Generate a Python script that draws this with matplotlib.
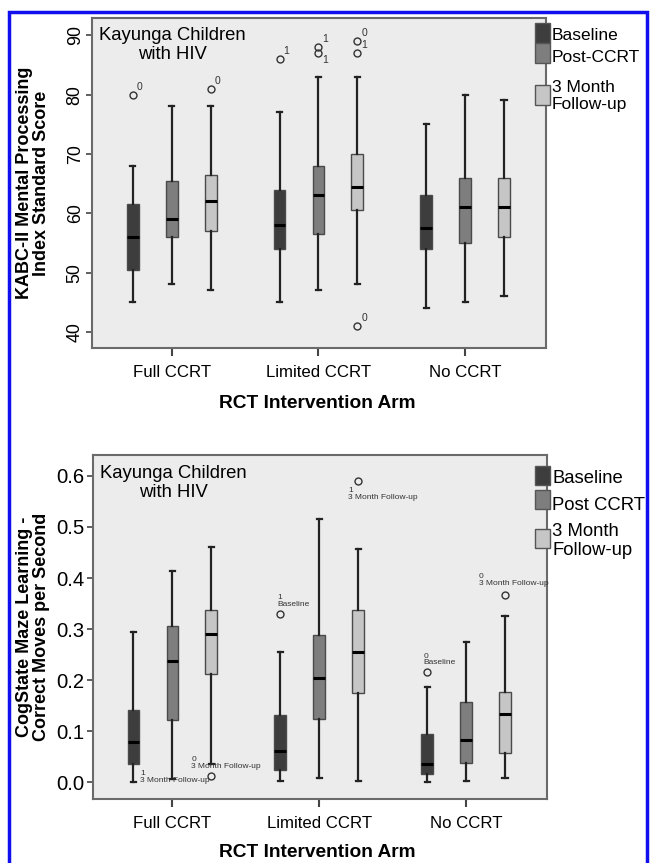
import matplotlib.pyplot as plt
from matplotlib import font_manager
from matplotlib.patches import Rectangle

# ---- data ----
arms = ['Full CCRT', 'Limited CCRT', 'No CCRT']
phases_top = ['Baseline', 'Post-CCRT', '3 Month\nFollow-up']
phases_bot = ['Baseline', 'Post CCRT', '3 Month\nFollow-up']

# box stats per arm: [whislo, q1, median, q3, whishi]
kabc_baseline = [[45, 50.5, 56, 61.5, 68], [45, 54, 58, 64, 77], [44, 54, 57.5, 63, 75]]
kabc_post = [[48, 56, 59, 65.5, 78], [47, 56.5, 63, 68, 83], [45, 55, 61, 66, 80]]
kabc_followup = [[47, 57, 62, 66.5, 78], [48, 60.5, 64.5, 70, 83], [46, 56, 61, 66, 79]]
kabc_outliers_baseline = [[80], [86], []]
kabc_outliers_post = [[], [88, 87], []]
kabc_outliers_followup = [[81], [89, 87, 41], []]
kabc_outlier_labels_baseline = [['0'], ['1'], []]
kabc_outlier_labels_post = [[], ['1', '1'], []]
kabc_outlier_labels_followup = [['0'], ['0', '1', '0'], []]

maze_baseline = [[0.0, 0.035, 0.079, 0.142, 0.295], [0.002, 0.023, 0.062, 0.131, 0.255],
                 [0.0, 0.016, 0.035, 0.095, 0.186]]
maze_post = [[0.006, 0.122, 0.237, 0.305, 0.413], [0.008, 0.124, 0.205, 0.289, 0.515],
             [0.002, 0.038, 0.082, 0.157, 0.275]]
maze_followup = [[0.035, 0.212, 0.291, 0.338, 0.460], [0.002, 0.175, 0.255, 0.338, 0.457],
                 [0.008, 0.057, 0.133, 0.176, 0.325]]
maze_outliers_baseline = [[], [0.330], [0.215]]
maze_outliers_post = [[], [], []]
maze_outliers_followup = [[0.013], [0.590], [0.367]]
maze_outlier_labels_baseline = [[], ['1\nBaseline'], ['0\nBaseline']]
maze_outlier_labels_followup = [['0\n3 Month Follow-up'], ['1\n3 Month Follow-up'],
                                ['0\n3 Month Follow-up']]

colors = ['#3d3d3d', '#7e7e7e', '#c6c6c6']

# ---- fonts ----
installed = {f.name for f in font_manager.fontManager.ttflist}
if 'Liberation Sans Narrow' in installed:
    FONT, K = 'Liberation Sans Narrow', 1.0
else:
    FONT, K = 'Liberation Sans', 0.86
plt.rcParams['font.family'] = [FONT, 'DejaVu Sans']

W, H = 654, 863
fig = plt.figure(figsize=(W / 100, H / 100), dpi=100)


def fx(px):
    return px / W


def fy(py):
    return 1 - py / H


offsets = [-0.265, 0.0, 0.265]


def draw_panel(ax, groups, outliers, labels, label_style):
    for j, (grp, fl, lb) in enumerate(zip(groups, outliers, labels)):
        stats = []
        for i, s in enumerate(grp):
            stats.append(dict(whislo=s[0], q1=s[1], med=s[2], q3=s[3], whishi=s[4],
                              fliers=fl[i]))
        pos = [i + offsets[j] for i in range(len(grp))]
        ax.bxp(stats, positions=pos, widths=0.08, capwidths=0.035, patch_artist=True,
               manage_ticks=False,
               boxprops=dict(facecolor=colors[j], edgecolor='#4a4a4a', linewidth=1.0),
               medianprops=dict(color='black', linewidth=2.2),
               whiskerprops=dict(color='#222222', linewidth=1.6),
               capprops=dict(color='#222222', linewidth=1.6),
               flierprops=dict(marker='o', markersize=5, markerfacecolor='none',
                               markeredgecolor='#333333', markeredgewidth=1.0))
        for i in range(len(grp)):
            for k, (v, t) in enumerate(zip(fl[i], lb[i])):
                dx, dy, ha, va, fs = label_style(j, i, k)
                ax.annotate(t, (pos[i], v), xytext=(dx, dy), textcoords='offset pixels',
                            ha=ha, va=va, fontsize=fs, color='#333333', linespacing=0.9)


def style_axes(ax):
    ax.set_facecolor('#ececec')
    for sp in ax.spines.values():
        sp.set_color('#6a6a6a')
        sp.set_linewidth(1.5)
    ax.set_xticks(range(len(arms)))
    ax.set_xticklabels(arms, fontsize=14 * K)
    ax.set_xlim(-0.544, 2.551)
    ax.tick_params(axis='x', length=6, width=1.5, color='#444444', pad=6)
    ax.tick_params(axis='y', length=4, width=1.2, color='#444444', pad=2)


# ---- top panel ----
ax1 = fig.add_axes([fx(92), fy(348), fx(454), (348 - 18) / H])


def top_label(j, i, k):
    # second outlier of the Limited CCRT post box has its label underneath
    if (j, i, k) == (1, 1, 1):
        return 4, -2, 'left', 'top', 7.5
    return 4, 3, 'left', 'bottom', 7.5


draw_panel(ax1, [kabc_baseline, kabc_post, kabc_followup],
           [kabc_outliers_baseline, kabc_outliers_post, kabc_outliers_followup],
           [kabc_outlier_labels_baseline, kabc_outlier_labels_post, kabc_outlier_labels_followup],
           top_label)
style_axes(ax1)
ax1.set_ylim(37.3, 92.9)
ax1.set_yticks([40, 50, 60, 70, 80, 90])
ax1.tick_params(axis='y', labelsize=15 * K, labelrotation=90)
for t in ax1.get_yticklabels():
    t.set_va('center')
ax1.text(0.178, 0.918, 'Kayunga Children\nwith HIV', transform=ax1.transAxes,
         ha='center', va='center', fontsize=15.5 * K, linespacing=1.12)

# ---- bottom panel ----
ax2 = fig.add_axes([fx(92.5), fy(799), fx(454.5), (799 - 455) / H])

bot_offsets = {
    (2, 0): (-20, 6, 'left', 'bottom'),
    (0, 1): (-3, 6, 'left', 'bottom'),
    (2, 1): (-10, -6, 'left', 'top'),
    (0, 2): (-4, 6, 'left', 'bottom'),
    (2, 2): (-26, 8, 'left', 'bottom'),
}


def bot_label(j, i, k):
    dx, dy, ha, va = bot_offsets.get((j, i), (-4, 6, 'left', 'bottom'))
    return dx, dy, ha, va, 7 * K


draw_panel(ax2, [maze_baseline, maze_post, maze_followup],
           [maze_outliers_baseline, maze_outliers_post, maze_outliers_followup],
           [maze_outlier_labels_baseline, [[], [], []], maze_outlier_labels_followup],
           bot_label)
style_axes(ax2)
# case label beside the Full CCRT baseline lower whisker
ax2.annotate('1\n3 Month Follow-up', (offsets[0], maze_baseline[0][0]), xytext=(7, 12),
             textcoords='offset pixels', ha='left', va='top', fontsize=7 * K,
             color='#333333', linespacing=0.9)
ax2.set_ylim(-0.033, 0.641)
ax2.set_yticks([0.0, 0.1, 0.2, 0.3, 0.4, 0.5, 0.6])
ax2.set_yticklabels(['0.0', '0.1', '0.2', '0.3', '0.4', '0.5', '0.6'])
ax2.tick_params(axis='y', labelsize=17 * K)
ax2.text(0.178, 0.919, 'Kayunga Children\nwith HIV', transform=ax2.transAxes,
         ha='center', va='center', fontsize=15.5 * K, linespacing=1.12)

# ---- axis titles ----
fig.text(fx(33), fy(183), 'KABC-II Mental Processing\nIndex Standard Score', rotation=90,
         ha='center', va='center', fontsize=13, fontweight='bold',
         family=['Liberation Sans', 'DejaVu Sans'], linespacing=1.05)
fig.text(fx(33), fy(627), 'CogState Maze Learning -\nCorrect Moves per Second', rotation=90,
         ha='center', va='center', fontsize=13, fontweight='bold',
         family=['Liberation Sans', 'DejaVu Sans'], linespacing=1.05)
fig.text(fx(317), fy(403), 'RCT Intervention Arm', ha='center', va='center',
         fontsize=16 * K, fontweight='bold')
fig.text(fx(317), fy(852), 'RCT Intervention Arm', ha='center', va='center',
         fontsize=16 * K, fontweight='bold')


# ---- legends ----
def legend(items, tops, h, text_centers, fs):
    for j, (name, top, tc) in enumerate(zip(items, tops, text_centers)):
        fig.patches.append(Rectangle((fx(535), fy(top + h)), fx(15), h / H,
                                     transform=fig.transFigure, facecolor=colors[j],
                                     edgecolor='#555555', linewidth=1.0, zorder=5))
        fig.text(fx(552), fy(tc), name, ha='left', va='center', fontsize=fs,
                 linespacing=1.12, zorder=6)


legend(phases_top, [23, 43, 85], 20, [35, 57, 96], 14.5 * K)
legend(phases_bot, [466, 490, 529], 19, [478, 505, 541], 15.5 * K)

# blue frame
fig.patches.append(Rectangle((fx(9), fy(866)), fx(638), (866 - 12) / H,
                             transform=fig.transFigure, fill=False,
                             edgecolor='#1010ee', linewidth=2.5, clip_on=False))

plt.savefig('out.png', dpi=100)
